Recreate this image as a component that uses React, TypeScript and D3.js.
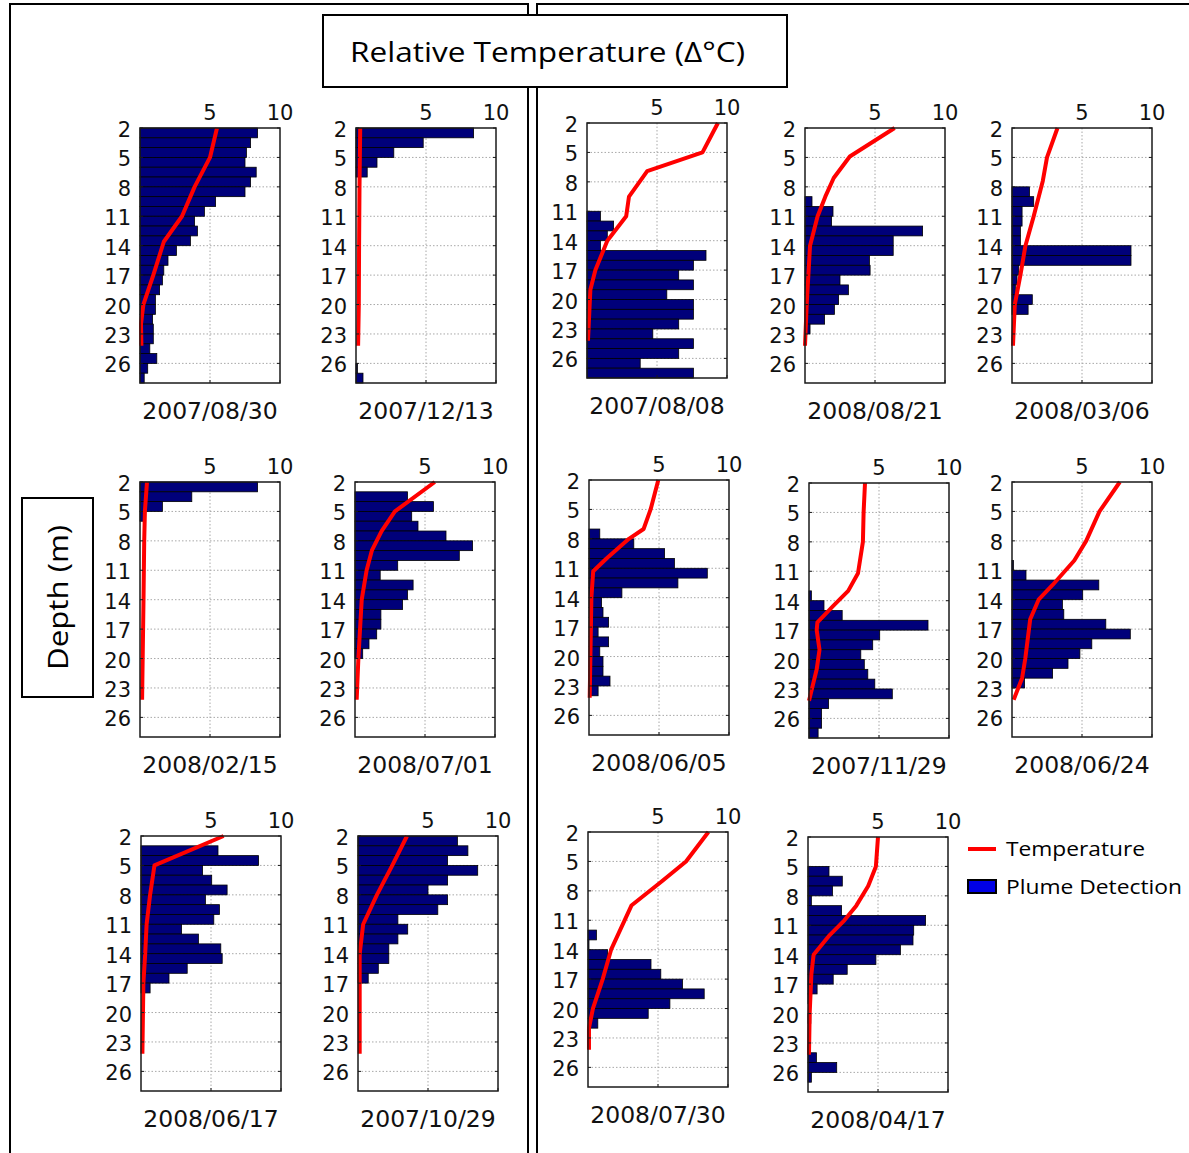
import React from 'react';
import * as d3 from 'd3';

// depth bins (top edge of each 1 m bin), axis ticks
const binDepths = [2, 3, 4, 5, 6, 7, 8, 9, 10, 11, 12, 13, 14, 15, 16, 17, 18, 19, 20, 21, 22, 23, 24, 25, 26, 27];
const depthTicks = [2, 5, 8, 11, 14, 17, 20, 23, 26];
const tempTicks = [5, 10];

const dates = [
  '2007/08/30', '2007/12/13', '2007/08/08', '2008/08/21', '2008/03/06',
  '2008/02/15', '2008/07/01', '2008/06/05', '2007/11/29', '2008/06/24',
  '2008/06/17', '2007/10/29', '2008/07/30', '2008/04/17',
];

// plume detection, one value per depth bin
const plume070830 = [8.4, 7.9, 7.6, 7.5, 8.3, 7.9, 7.5, 5.4, 4.6, 3.9, 4.1, 3.6, 2.6, 2.0, 1.7, 1.6, 1.4, 1.1, 1.1, 0.9, 0.95, 0.95, 0.7, 1.2, 0.55, 0.3];
const plume071213 = [8.4, 4.8, 2.7, 1.5, 0.8, 0, 0, 0, 0, 0, 0, 0, 0, 0, 0, 0, 0, 0, 0, 0, 0, 0, 0, 0, 0.1, 0.5];
const plume070808 = [0, 0, 0, 0, 0, 0, 0, 0, 0, 0.96, 1.9, 1.45, 0.96, 8.5, 7.6, 6.55, 7.6, 5.7, 7.6, 7.6, 6.55, 4.7, 7.6, 6.55, 3.8, 7.6];
const plume080821 = [0, 0, 0, 0, 0, 0, 0, 0.5, 2.0, 1.9, 8.4, 6.3, 6.3, 4.6, 4.65, 2.5, 3.1, 2.4, 2.1, 1.4, 0.36, 0, 0, 0, 0, 0];
const plume080306 = [0, 0, 0, 0, 0, 0, 1.25, 1.55, 0.72, 0.72, 0.6, 0.6, 8.5, 8.5, 0.48, 0.36, 0.24, 1.45, 1.15, 0, 0, 0, 0, 0, 0, 0];
const plume080215 = [8.4, 3.7, 1.6, 0.25, 0, 0, 0, 0, 0, 0, 0, 0, 0, 0, 0, 0, 0, 0, 0, 0, 0, 0, 0, 0, 0, 0];
const plume080701 = [0, 3.75, 5.6, 4.05, 4.5, 6.5, 8.4, 7.45, 3.05, 1.8, 4.15, 3.75, 3.4, 1.85, 1.85, 1.55, 1.0, 0.55, 0, 0, 0, 0, 0, 0, 0, 0];
const plume080605 = [0, 0, 0, 0, 0, 0.77, 3.2, 5.4, 6.1, 8.45, 6.35, 2.35, 0.9, 1.0, 1.4, 0.65, 1.4, 0.77, 1.0, 1.0, 1.5, 0.65, 0, 0, 0, 0];
const plume071129 = [0, 0, 0, 0, 0, 0, 0, 0, 0, 0, 0, 0.17, 1.07, 2.37, 8.5, 5.05, 4.55, 3.7, 3.95, 4.2, 4.7, 5.95, 1.4, 0.9, 0.9, 0.65];
const plume080624 = [0, 0, 0, 0, 0, 0, 0, 0, 0.1, 1.0, 6.2, 5.05, 3.6, 3.7, 6.7, 8.45, 5.7, 4.85, 4.0, 2.9, 0.9, 0, 0, 0, 0, 0];
const plume080617 = [0, 5.5, 8.4, 4.4, 5.05, 6.15, 4.6, 5.6, 5.2, 2.9, 4.1, 5.7, 5.8, 3.3, 2.0, 0.65, 0, 0, 0, 0, 0, 0, 0, 0, 0, 0];
const plume071029 = [7.1, 7.85, 6.4, 8.55, 6.4, 5.0, 6.4, 5.7, 2.85, 3.55, 2.85, 2.2, 2.2, 1.45, 0.73, 0, 0, 0, 0, 0, 0, 0, 0, 0, 0, 0];
const plume080730 = [0, 0, 0, 0, 0, 0, 0, 0, 0, 0, 0.6, 0.07, 1.4, 4.5, 5.2, 6.75, 8.3, 5.85, 4.3, 0.7, 0, 0, 0, 0, 0, 0];
const plume080417 = [0, 0, 0, 1.5, 2.45, 1.75, 0.24, 2.4, 8.4, 7.55, 7.5, 6.6, 4.85, 2.8, 1.8, 0.65, 0.2, 0, 0.2, 0, 0, 0, 0.6, 2.05, 0.24, 0];

// temperature profiles as [depth, relative temperature]
const temp070830 = [[2, 5.5], [5, 5.0], [8, 3.9], [11, 3.0], [13.6, 1.7], [17, 0.95], [20, 0.24], [22, 0.07], [24.2, 0.1]];
const temp071213 = [[2, 0.3], [8, 0.25], [14, 0.22], [20, 0.2], [24.2, 0.15]];
const temp070808 = [[2, 9.35], [5, 8.25], [6.9, 4.3], [9.5, 3.0], [11.5, 2.8], [14, 1.45], [17, 0.6], [19, 0.24], [24.2, 0.07]];
const temp080821 = [[2, 6.4], [4.9, 3.2], [7.1, 2.05], [9, 1.45], [11, 0.9], [14, 0.36], [17, 0.24], [20, 0.12], [24.2, 0]];
const temp080306 = [[2, 3.25], [5, 2.5], [7.4, 2.2], [11, 1.55], [14, 0.96], [17, 0.6], [20, 0.2], [24.2, 0.07]];
const temp080215 = [[2, 0.5], [5, 0.35], [8, 0.3], [14, 0.25], [24.2, 0.15]];
const temp080701 = [[2, 5.7], [5, 2.85], [7, 1.9], [9, 1.2], [11, 0.83], [14, 0.48], [17, 0.36], [20, 0.24], [24.2, 0.12]];
const temp080605 = [[2, 4.95], [5, 4.4], [7, 3.9], [8, 2.85], [10, 1.25], [11.3, 0.3], [14, 0.17], [24.2, 0.05]];
const temp071129 = [[2, 4.0], [5, 3.9], [8, 3.85], [11.2, 3.5], [13, 2.8], [14.5, 1.75], [16.2, 0.6], [17, 0.55], [19, 0.75], [21, 0.55], [24.2, 0]];
const temp080624 = [[2, 7.7], [5, 6.25], [8, 5.3], [10, 4.45], [12.5, 2.9], [14, 1.9], [16, 1.3], [20, 0.95], [22, 0.72], [24.2, 0.12]];
const temp080617 = [[2, 5.9], [5, 0.96], [8, 0.65], [11, 0.4], [14, 0.3], [17, 0.17], [24.2, 0.1]];
const temp071029 = [[2, 3.5], [5, 2.45], [8, 1.35], [11, 0.37], [14, 0.12], [24.2, 0.12]];
const temp080730 = [[2, 8.6], [5, 7.0], [7, 5.3], [9.5, 3.1], [14, 1.65], [17, 1.05], [20, 0.35], [22, 0.07], [24.2, 0.07]];
const temp080417 = [[2, 5.0], [5, 4.85], [7, 4.3], [9, 3.45], [10.5, 2.6], [12, 1.55], [14, 0.4], [16, 0.24], [20, 0.12], [24.2, 0.07]];

const plumes = [
  plume070830, plume071213, plume070808, plume080821, plume080306,
  plume080215, plume080701, plume080605, plume071129, plume080624,
  plume080617, plume071029, plume080730, plume080417,
];
const temps = [
  temp070830, temp071213, temp070808, temp080821, temp080306,
  temp080215, temp080701, temp080605, temp071129, temp080624,
  temp080617, temp071029, temp080730, temp080417,
];

// top-left corner of each plot box
const panelOrigins = [
  [140, 128], [356, 128], [587, 123], [805, 128], [1012, 128],
  [140, 482], [355, 482], [589, 480], [809, 483], [1012, 482],
  [141, 836], [358, 836], [588, 832], [808, 837],
];

const W = 140;
const H = 255;
const NUM_FONT = 'DejaVu Sans, Arial, sans-serif';
const LABEL_FONT = '"Open Sans", "Noto Sans", sans-serif';

function Panel({ x0, y0, date, plume, temp }) {
  const x = d3.scaleLinear().domain([0, 10]).range([0, W]);
  const y = d3.scaleLinear().domain([2, 28]).range([0, H]);
  const line = d3
    .line()
    .x(d => x(d[1]))
    .y(d => y(d[0]));

  return (
    <g transform={`translate(${x0},${y0})`}>
      <rect width={W} height={H} fill="#fff" />
      {depthTicks.slice(1).map(d => (
        <line key={'g' + d} x1={0} x2={W} y1={y(d)} y2={y(d)} stroke="#a8a8a8" strokeWidth={1} strokeDasharray="1.5,2" />
      ))}
      <line x1={x(5)} x2={x(5)} y1={0} y2={H} stroke="#a8a8a8" strokeWidth={1} strokeDasharray="1.5,2" />
      {plume.map((v, i) =>
        v > 0 ? (
          <rect
            key={'b' + i}
            x={x(0)}
            y={y(binDepths[i])}
            width={x(v) - x(0)}
            height={y(binDepths[i] + 1) - y(binDepths[i])}
            fill="#00007a"
            stroke="#000"
            strokeWidth={0.8}
          />
        ) : null
      )}
      <path d={line(temp)} fill="none" stroke="#ff0000" strokeWidth={4} strokeLinejoin="round" />
      <rect width={W} height={H} fill="none" stroke="#1a1a1a" strokeWidth={1.5} />
      {depthTicks.map(d => (
        <g key={'t' + d}>
          <line x1={0} x2={3} y1={y(d)} y2={y(d)} stroke="#1a1a1a" />
          <line x1={W - 3} x2={W} y1={y(d)} y2={y(d)} stroke="#1a1a1a" />
          <text x={-9} y={y(d) + 9} textAnchor="end" fontFamily={NUM_FONT} fontSize={21} fill="#111">
            {d}
          </text>
        </g>
      ))}
      {tempTicks.map(t => (
        <g key={'x' + t}>
          <line x1={x(t)} x2={x(t)} y1={H} y2={H - 3} stroke="#1a1a1a" />
          <text x={x(t)} y={-8} textAnchor="middle" fontFamily={NUM_FONT} fontSize={21} fill="#111">
            {t}
          </text>
        </g>
      ))}
      <text x={W / 2} y={H + 36} textAnchor="middle" fontFamily={NUM_FONT} fontSize={23.5} fill="#111">
        {date}
      </text>
    </g>
  );
}

export default function App() {
  return (
    <div style={{ position: 'absolute', left: 0, top: 0 }}>
      <svg width={1189} height={1153} viewBox="0 0 1189 1153" style={{ display: 'block', background: '#fff' }}>
        {/* frames */}
        <g fill="none" stroke="#000" strokeWidth={2}>
          <path d="M10,1153 V4 H528 V1153" />
          <path d="M537,1153 V4 H1189" />
        </g>

        {dates.map((date, i) => (
          <Panel
            key={date}
            x0={panelOrigins[i][0]}
            y0={panelOrigins[i][1]}
            date={date}
            plume={plumes[i]}
            temp={temps[i]}
          />
        ))}

        {/* title box */}
        <rect x={323} y={15} width={464} height={72} fill="#fff" stroke="#000" strokeWidth={2} />
        <text x={350} y={62} fontFamily={LABEL_FONT} fontSize={28} textLength={395} lengthAdjust="spacingAndGlyphs" fill="#000">
          Relative Temperature (Δ°C)
        </text>

        {/* depth label box */}
        <rect x={22} y={498} width={71} height={199} fill="#fff" stroke="#000" strokeWidth={2} />
        <text
          transform="translate(68,670) rotate(-90)"
          fontFamily={LABEL_FONT}
          fontSize={27}
          textLength={145}
          lengthAdjust="spacingAndGlyphs"
          fill="#000"
        >
          Depth (m)
        </text>

        {/* legend */}
        <line x1={968} x2={996} y1={849} y2={849} stroke="#ff0000" strokeWidth={4} />
        <text x={1006} y={856} fontFamily={LABEL_FONT} fontSize={20} textLength={139} lengthAdjust="spacingAndGlyphs" fill="#000">
          Temperature
        </text>
        <rect x={968} y={880} width={28} height={13} fill="#0000e6" stroke="#000" strokeWidth={2} />
        <text x={1006} y={894} fontFamily={LABEL_FONT} fontSize={20} textLength={176} lengthAdjust="spacingAndGlyphs" fill="#000">
          Plume Detection
        </text>
      </svg>
    </div>
  );
}
